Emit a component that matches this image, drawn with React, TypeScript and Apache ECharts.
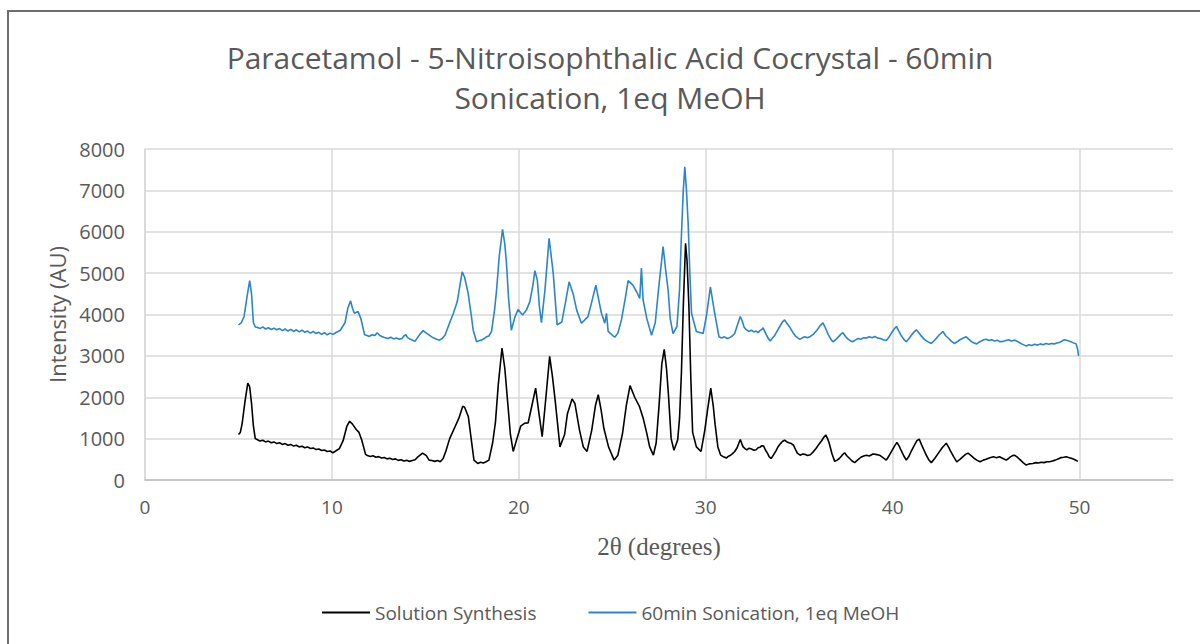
import React, { useEffect, useRef } from "react";
import * as echarts from "echarts";

const titleText = "Paracetamol - 5-Nitroisophthalic Acid Cocrystal - 60min\nSonication, 1eq MeOH";
const seriesNames = ["Solution Synthesis", "60min Sonication, 1eq MeOH"];
const xAxisName = "2θ (degrees)";
const yAxisName = "Intensity (AU)";

const solutionSynthesis: [number, number][] = [
  [5.0,1100],[5.1,1150],[5.2,1370],[5.35,1900],[5.5,2340],[5.6,2250],[5.7,1850],[5.8,1300],[5.9,1000],
  [6.0,980],[6.15,940],[6.3,960],[6.45,920],[6.6,940],[6.75,900],[6.9,920],[7.05,880],[7.2,900],
  [7.35,860],[7.5,880],[7.65,840],[7.8,860],[7.95,820],[8.1,840],[8.25,800],[8.4,815],[8.55,780],
  [8.7,800],[8.85,760],[9.0,775],[9.15,735],[9.3,750],[9.45,715],[9.6,725],[9.75,690],[9.9,700],
  [10.05,660],[10.2,700],[10.4,760],[10.6,950],[10.8,1300],[10.95,1420],[11.1,1350],[11.3,1220],
  [11.45,1150],[11.6,960],[11.8,620],[11.9,590],[12.05,570],[12.2,585],[12.35,550],[12.5,565],
  [12.65,530],[12.8,545],[12.95,510],[13.1,525],[13.25,495],[13.4,510],[13.55,475],[13.7,490],
  [13.85,460],[14.0,475],[14.15,450],[14.3,470],[14.45,490],[14.6,560],[14.85,650],[15.05,590],
  [15.2,480],[15.35,470],[15.5,450],[15.65,470],[15.8,440],[15.95,520],[16.1,700],[16.3,1000],
  [16.6,1300],[16.8,1500],[17.0,1780],[17.1,1760],[17.3,1530],[17.45,1000],[17.6,480],[17.8,400],
  [17.95,430],[18.1,410],[18.25,440],[18.4,480],[18.6,900],[18.75,1400],[18.9,2300],[19.1,3190],
  [19.25,2700],[19.4,1900],[19.55,1100],[19.7,690],[19.9,1000],[20.1,1300],[20.3,1370],[20.5,1380],
  [20.7,1800],[20.9,2220],[21.05,1700],[21.25,1050],[21.45,2000],[21.65,2990],[21.8,2500],[21.95,1900],
  [22.2,800],[22.45,1100],[22.6,1600],[22.85,1960],[23.0,1850],[23.25,1200],[23.45,800],[23.65,690],
  [23.9,1200],[24.1,1800],[24.25,2060],[24.4,1700],[24.55,1250],[24.8,800],[25.1,480],[25.3,600],
  [25.55,1130],[25.75,1800],[25.95,2280],[26.2,2000],[26.45,1780],[26.65,1500],[26.85,1120],[27.0,800],
  [27.2,600],[27.35,900],[27.5,1780],[27.65,2800],[27.78,3160],[27.9,2700],[28.0,2100],[28.15,1000],
  [28.3,720],[28.5,970],[28.6,1500],[28.7,2600],[28.8,4200],[28.92,5720],[29.0,5300],[29.1,4200],
  [29.2,2500],[29.3,1150],[29.5,800],[29.75,690],[29.95,1200],[30.1,1700],[30.27,2220],[30.4,1800],
  [30.5,1350],[30.65,800],[30.8,600],[30.95,560],[31.1,530],[31.2,570],[31.3,590],[31.42,630],
  [31.55,690],[31.68,780],[31.78,900],[31.85,980],[31.93,880],[32.0,800],[32.1,760],[32.2,730],
  [32.32,770],[32.45,750],[32.58,720],[32.7,730],[32.8,780],[32.9,790],[33.0,830],[33.1,820],
  [33.2,720],[33.3,650],[33.4,560],[33.5,520],[33.62,600],[33.75,700],[33.88,810],[34.0,880],
  [34.1,930],[34.22,960],[34.35,920],[34.45,900],[34.58,880],[34.7,840],[34.8,740],[34.9,650],
  [35.05,600],[35.2,630],[35.3,620],[35.45,590],[35.6,610],[35.75,680],[35.9,760],[36.05,860],
  [36.2,950],[36.3,1020],[36.42,1090],[36.52,1000],[36.6,900],[36.75,640],[36.9,450],[37.03,480],
  [37.15,520],[37.3,600],[37.43,660],[37.56,580],[37.7,520],[37.83,460],[37.97,420],[38.12,480],
  [38.3,550],[38.45,580],[38.6,600],[38.75,580],[38.95,630],[39.1,620],[39.3,600],[39.48,540],
  [39.66,480],[39.8,580],[39.95,700],[40.1,820],[40.23,910],[40.35,820],[40.45,720],[40.6,580],
  [40.73,480],[40.88,580],[41.0,700],[41.15,830],[41.3,950],[41.42,990],[41.55,850],[41.68,720],
  [41.8,600],[41.93,490],[42.07,420],[42.25,520],[42.45,650],[42.65,780],[42.87,890],[43.0,790],
  [43.1,700],[43.27,560],[43.43,440],[43.6,500],[43.75,560],[43.9,620],[44.03,650],[44.2,590],
  [44.35,530],[44.5,480],[44.68,440],[44.85,480],[45.0,500],[45.2,540],[45.4,560],[45.55,540],
  [45.72,560],[45.9,520],[46.08,480],[46.2,520],[46.3,560],[46.42,590],[46.52,600],[46.65,560],
  [46.8,500],[46.98,420],[47.15,360],[47.3,390],[47.5,400],[47.65,420],[47.8,410],[47.95,430],
  [48.1,420],[48.25,440],[48.4,440],[48.55,460],[48.7,480],[48.85,510],[49.0,540],[49.15,550],
  [49.29,560],[49.45,540],[49.6,520],[49.75,490],[49.91,450],
];

const sonication60min: [number, number][] = [
  [5.0,3750],[5.15,3800],[5.3,3950],[5.45,4400],[5.6,4820],[5.7,4500],[5.8,3800],[5.9,3700],
  [6.0,3690],[6.15,3660],[6.3,3700],[6.45,3650],[6.6,3680],[6.75,3640],[6.9,3670],[7.05,3630],
  [7.2,3660],[7.35,3610],[7.5,3650],[7.65,3600],[7.8,3640],[7.95,3590],[8.1,3630],[8.25,3580],
  [8.4,3620],[8.55,3570],[8.7,3600],[8.85,3550],[9.0,3590],[9.15,3540],[9.3,3570],[9.45,3520],
  [9.6,3560],[9.75,3510],[9.9,3550],[10.05,3520],[10.2,3560],[10.45,3620],[10.7,3800],[10.85,4150],
  [11.0,4330],[11.1,4150],[11.2,4030],[11.4,4070],[11.55,3900],[11.75,3510],[11.85,3500],[12.0,3470],
  [12.15,3510],[12.3,3490],[12.42,3560],[12.55,3500],[12.7,3460],[12.85,3440],[13.0,3420],[13.15,3450],
  [13.3,3410],[13.45,3430],[13.6,3400],[13.75,3420],[13.85,3480],[13.95,3510],[14.05,3440],[14.2,3400],
  [14.35,3370],[14.44,3350],[14.55,3420],[14.7,3520],[14.88,3610],[15.0,3570],[15.15,3520],[15.3,3470],
  [15.45,3430],[15.6,3400],[15.75,3380],[15.9,3420],[16.05,3500],[16.3,3800],[16.5,4030],[16.7,4300],
  [16.97,5030],[17.1,4900],[17.29,4510],[17.45,4000],[17.56,3620],[17.74,3340],[17.9,3370],[18.0,3380],
  [18.15,3420],[18.27,3460],[18.4,3480],[18.54,3590],[18.7,4100],[18.81,4590],[18.95,5400],[19.13,6060],
  [19.25,5700],[19.34,5240],[19.45,4400],[19.6,3620],[19.8,3950],[19.96,4120],[20.2,3990],[20.4,4100],
  [20.59,4310],[20.75,4700],[20.86,5060],[20.99,4830],[21.1,4200],[21.21,3800],[21.4,4600],[21.62,5840],
  [21.84,5000],[22.05,3750],[22.3,3820],[22.5,4300],[22.69,4790],[22.9,4510],[23.1,4100],[23.35,3790],
  [23.7,3950],[23.9,4300],[24.12,4710],[24.3,4300],[24.42,4030],[24.6,3790],[24.69,4030],[24.78,3590],
  [25.13,3450],[25.3,3550],[25.49,3870],[25.7,4400],[25.85,4820],[26.1,4710],[26.3,4550],[26.47,4390],
  [26.56,5120],[26.65,4350],[26.85,3900],[27.1,3500],[27.3,3800],[27.47,4590],[27.72,5640],[27.85,5100],
  [27.99,4590],[28.1,3900],[28.25,3540],[28.46,3710],[28.6,4600],[28.69,5800],[28.8,7000],[28.88,7570],
  [28.97,7000],[29.06,6200],[29.15,5000],[29.24,4030],[29.5,3590],[29.86,3540],[30.05,4000],[30.25,4670],
  [30.48,4030],[30.71,3460],[30.85,3430],[31.0,3460],[31.15,3420],[31.28,3440],[31.42,3480],[31.55,3540],
  [31.7,3750],[31.85,3950],[31.95,3850],[32.05,3700],[32.15,3640],[32.3,3590],[32.45,3620],[32.57,3580],
  [32.69,3600],[32.8,3560],[32.9,3610],[33.0,3640],[33.07,3680],[33.15,3600],[33.25,3500],[33.35,3420],
  [33.45,3360],[33.55,3420],[33.7,3500],[33.85,3620],[34.0,3740],[34.12,3830],[34.22,3870],[34.35,3780],
  [34.5,3690],[34.67,3560],[34.82,3470],[35.03,3400],[35.15,3430],[35.3,3460],[35.45,3440],[35.6,3470],
  [35.75,3520],[35.95,3620],[36.1,3720],[36.27,3800],[36.4,3680],[36.55,3520],[36.7,3400],[36.8,3340],
  [36.95,3390],[37.1,3460],[37.22,3520],[37.34,3560],[37.48,3470],[37.6,3410],[37.75,3360],[37.85,3340],
  [38.0,3380],[38.15,3420],[38.3,3400],[38.45,3440],[38.6,3430],[38.75,3460],[38.9,3440],[39.05,3470],
  [39.2,3430],[39.35,3420],[39.5,3390],[39.66,3370],[39.8,3450],[39.95,3560],[40.08,3650],[40.2,3710],
  [40.33,3600],[40.45,3500],[40.6,3400],[40.73,3340],[40.88,3420],[41.0,3500],[41.15,3580],[41.27,3630],
  [41.4,3560],[41.55,3470],[41.7,3400],[41.85,3350],[42.07,3300],[42.2,3360],[42.35,3430],[42.5,3510],
  [42.69,3590],[42.85,3480],[43.0,3420],[43.15,3350],[43.3,3300],[43.45,3340],[43.6,3390],[43.78,3430],
  [43.94,3460],[44.08,3400],[44.2,3350],[44.35,3310],[44.5,3290],[44.62,3330],[44.75,3360],[44.88,3390],
  [45.0,3400],[45.15,3370],[45.3,3390],[45.45,3360],[45.6,3380],[45.75,3340],[45.9,3350],[46.05,3370],
  [46.2,3390],[46.35,3360],[46.5,3380],[46.6,3370],[46.75,3330],[46.9,3290],[47.05,3260],[47.15,3240],
  [47.3,3270],[47.45,3250],[47.6,3280],[47.75,3260],[47.9,3290],[48.05,3270],[48.2,3300],[48.35,3280],
  [48.5,3300],[48.65,3290],[48.8,3310],[48.95,3330],[49.1,3370],[49.2,3390],[49.35,3370],[49.5,3350],
  [49.65,3320],[49.82,3290],[49.9,3150],[49.95,3000],
];

const xMin = 0, xMax = 55, xInterval = 10;
const yMin = 0, yMax = 8000, yInterval = 1000;

export default function App() {
  const ref = useRef<HTMLDivElement>(null);
  useEffect(() => {
    if (!ref.current) return;
    const chart = echarts.init(ref.current, undefined, { renderer: "svg" });
    const grey = "#595959";
    const sans = "'Open Sans', 'Noto Sans', sans-serif";
    chart.setOption({
      animation: false,
      backgroundColor: "#ffffff",
      title: {
        text: titleText,
        left: 605,
        textAlign: "center",
        top: 32,
        textStyle: { fontFamily: sans, fontSize: 30, fontWeight: "normal", color: grey, lineHeight: 40 },
      },
      graphic: [
        {
          type: "rect",
          shape: { x: 8, y: 11, width: 1300, height: 800 },
          style: { fill: "none", stroke: "#6e6e6e", lineWidth: 2 },
          silent: true,
        },
      ],
      legend: {
        bottom: 17,
        left: 317,
        itemWidth: 48,
        itemHeight: 2,
        itemGap: 52,
        icon: "rect",
        textStyle: { fontFamily: sans, fontSize: 19, color: grey },
        data: seriesNames,
      },
      grid: { left: 145, right: 27, top: 149, bottom: 164, containLabel: false },
      xAxis: {
        type: "value",
        min: xMin,
        max: xMax,
        interval: xInterval,
        name: xAxisName,
        nameLocation: "middle",
        nameGap: 54,
        nameTextStyle: { fontFamily: "'Liberation Serif', serif", fontSize: 25, color: grey },
        axisLine: { show: true, lineStyle: { color: "#bfbfbf", width: 1.5 } },
        axisTick: { show: false },
        axisLabel: {
          fontFamily: sans, fontSize: 19, color: grey, margin: 17,
          formatter: (v: number) => (v > 50 ? "" : String(v)),
        },
        splitLine: {
          show: true,
          lineStyle: {
            color: ["#d9d9d9", "#d9d9d9", "#d9d9d9", "#d9d9d9", "#d9d9d9", "#d9d9d9", "rgba(0,0,0,0)"],
            width: 1.5,
          },
        },
      },
      yAxis: {
        type: "value",
        min: yMin,
        max: yMax,
        interval: yInterval,
        name: yAxisName,
        nameLocation: "middle",
        nameGap: 74,
        nameTextStyle: { fontFamily: sans, fontSize: 22, color: grey },
        axisLine: { show: true, lineStyle: { color: "#d9d9d9", width: 1.5 } },
        axisTick: { show: false },
        axisLabel: { fontFamily: sans, fontSize: 20, color: grey, margin: 20, formatter: (v: number) => String(v) },
        splitLine: { show: true, lineStyle: { color: "#d9d9d9", width: 1.5 } },
      },
      series: [
        {
          name: seriesNames[0],
          type: "line",
          data: solutionSynthesis,
          symbol: "none",
          smooth: false,
          lineStyle: { color: "#000000", width: 1.6 },
          itemStyle: { color: "#000000" },
        },
        {
          name: seriesNames[1],
          type: "line",
          data: sonication60min,
          symbol: "none",
          smooth: false,
          lineStyle: { color: "#2b85c8", width: 1.6 },
          itemStyle: { color: "#2b85c8" },
        },
      ],
    });
    return () => chart.dispose();
  }, []);
  return <div ref={ref} style={{ position: "fixed", left: 0, top: 0, width: 1200, height: 644 }} />;
}
